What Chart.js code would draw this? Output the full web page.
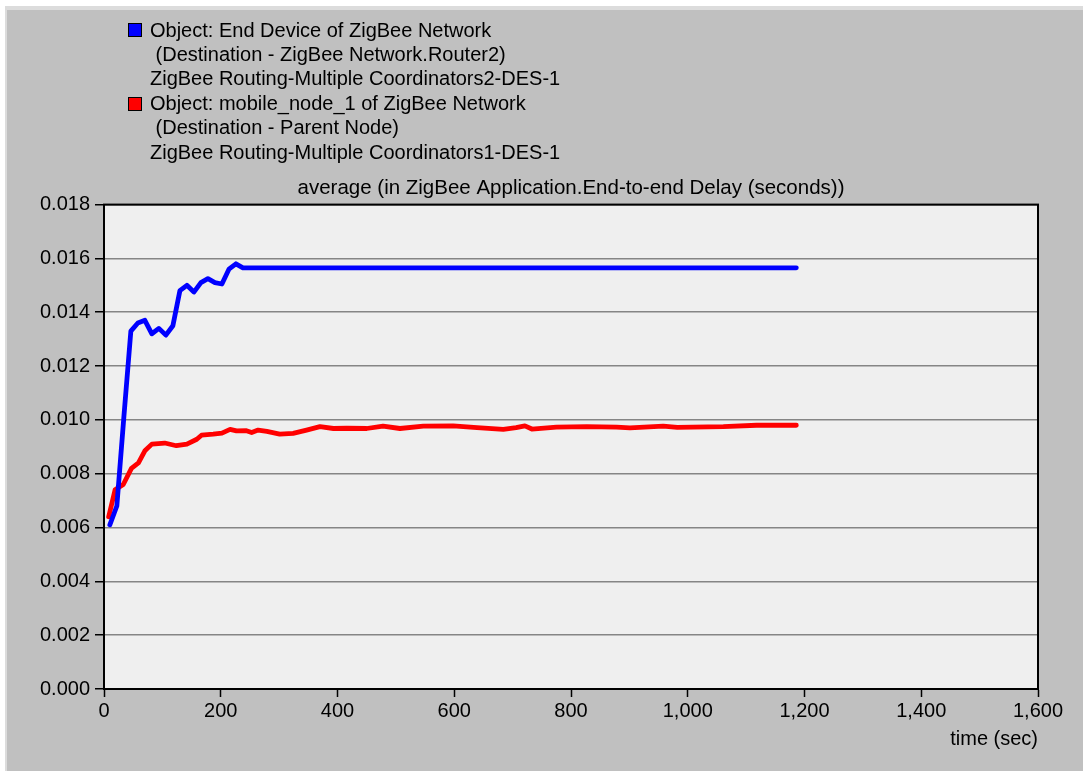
<!DOCTYPE html>
<html>
<head>
<meta charset="utf-8">
<script src="https://cdn.jsdelivr.net/npm/chart.js@4"></script>
<style>
  body { margin: 0; background: #fff; }
  #wrap { position: relative; width: 1083px; height: 771px; }
  #legend { position: absolute; left: 0; top: 0; font-family: "Liberation Sans", Arial, sans-serif; font-size: 20px; color: #000; }
  .line { position: absolute; left: 150px; white-space: pre; line-height: 24px; }
  .box { position: absolute; left: 128px; width: 12px; height: 12px; border: 1px solid #000; }
</style>
</head>
<body>
<div id="wrap">
  <canvas id="delayChart" width="1083" height="771"></canvas>
  <div id="legend">
    <div class="box" style="top:23px;background:#0000ff"></div>
    <div class="line" style="top:18px">Object: End Device of ZigBee Network</div>
    <div class="line" style="top:42px"> (Destination - ZigBee Network.Router2)</div>
    <div class="line" style="top:66px">ZigBee Routing-Multiple Coordinators2-DES-1</div>
    <div class="box" style="top:97px;background:#ff0000"></div>
    <div class="line" style="top:91px">Object: mobile_node_1 of ZigBee Network</div>
    <div class="line" style="top:115px"> (Destination - Parent Node)</div>
    <div class="line" style="top:140px">ZigBee Routing-Multiple Coordinators1-DES-1</div>
  </div>
</div>
<script>
// End Device -> Router2 (blue)
const blueTime = [10, 22, 34, 46, 58, 70, 82, 94, 106, 118, 130, 142, 154, 166, 178, 190, 202, 214, 226, 238, 1186];
const blueDelay = [0.0061, 0.0068, 0.0101, 0.0133, 0.0136, 0.0137, 0.0132, 0.0134, 0.01315, 0.0135, 0.0148, 0.0150, 0.01475,
  0.0151, 0.01525, 0.0151, 0.01505, 0.0156, 0.0158, 0.01565, 0.01565];

// mobile_node_1 -> Parent Node (red)
const redTime = [8, 19, 33, 47, 59, 70, 82, 104, 124, 142, 159, 167, 187, 202, 216, 227, 244, 253, 264, 279, 301, 324, 347,
  370, 393, 416, 450, 478, 507, 547, 598, 639, 684, 706, 721, 733, 775, 827, 878, 901, 958, 982, 1061, 1118, 1186];
const redDelay = [0.0064, 0.0074, 0.0076, 0.0082, 0.0084, 0.00885, 0.0091, 0.00914, 0.00904, 0.0091, 0.00928, 0.00943,
  0.00947, 0.00951, 0.00965, 0.00959, 0.0096, 0.00953, 0.00962, 0.00957, 0.00947, 0.0095, 0.00962, 0.00975, 0.00968,
  0.00969, 0.00968, 0.00977, 0.00968, 0.00977, 0.00978, 0.00971, 0.00965, 0.00971, 0.00978, 0.00966, 0.00973, 0.00975,
  0.00973, 0.0097, 0.00977, 0.00972, 0.00975, 0.0098, 0.0098];

const yMax = 0.018;
const xMax = 1600;

const toPoints = (xs, ys) => xs.map((x, i) => ({ x: x, y: ys[i] }));

const panelBackground = {
  id: "panelBackground",
  beforeDraw(chart) {
    const { ctx, width, height, chartArea } = chart;
    ctx.save();
    ctx.fillStyle = "#ffffff";
    ctx.fillRect(0, 0, width, height);
    ctx.fillStyle = "#dcdcdc";
    ctx.fillRect(5, 6, width, height);
    ctx.fillStyle = "#c0c0c0";
    ctx.fillRect(7, 10, width, height);
    ctx.fillStyle = "#efefef";
    ctx.fillRect(chartArea.left, chartArea.top, chartArea.right - chartArea.left, chartArea.bottom - chartArea.top);
    ctx.restore();
  },
  afterDraw(chart) {
    const { ctx, chartArea } = chart;
    ctx.save();
    ctx.strokeStyle = "#000";
    ctx.lineWidth = 2;
    ctx.strokeRect(chartArea.left, chartArea.top, chartArea.right - chartArea.left, chartArea.bottom - chartArea.top);
    ctx.restore();
  },
};

const font = { family: "'Liberation Sans', Arial, sans-serif", size: 20 };

new Chart(document.getElementById("delayChart").getContext("2d"), {
  type: "line",
  data: {
    datasets: [
      {
        label: "Object: End Device of ZigBee Network",
        data: toPoints(blueTime, blueDelay),
        borderColor: "#0000ff",
        borderWidth: 4.8,
        borderJoinStyle: "round",
        borderCapStyle: "round",
        pointRadius: 0,
        tension: 0,
      },
      {
        label: "Object: mobile_node_1 of ZigBee Network",
        data: toPoints(redTime, redDelay),
        borderColor: "#ff0000",
        borderWidth: 4.8,
        borderJoinStyle: "round",
        borderCapStyle: "round",
        pointRadius: 0,
        tension: 0,
      },
    ],
  },
  options: {
    responsive: false,
    animation: false,
    devicePixelRatio: 1,
    layout: { padding: { left: 0, right: 45, top: 0, bottom: 0 } },
    plugins: {
      legend: { display: false },
      tooltip: { enabled: false },
      title: {
        display: true,
        fullSize: false,
        text: "average (in ZigBee Application.End-to-end Delay (seconds))",
        color: "#000",
        font: { family: font.family, size: 20.5, weight: "normal" },
        padding: { top: 176, bottom: 4 },
      },
    },
    scales: {
      x: {
        type: "linear",
        min: 0,
        max: xMax,
        afterFit: (s) => { s.height = 82; },
        ticks: {
          stepSize: 200,
          color: "#000",
          font: font,
          padding: 2,
          maxRotation: 0,
          callback: (v) => v.toLocaleString("en-US"),
        },
        grid: { drawOnChartArea: false, tickLength: 8, tickColor: "#000", tickWidth: 1.5 },
        border: { color: "#000", width: 2 },
        title: { display: true, text: "time (sec)", align: "end", color: "#000", font: font, padding: { top: 0, bottom: 20 } },
      },
      y: {
        min: 0,
        max: yMax,
        afterFit: (s) => { s.width = 104; },
        ticks: {
          stepSize: 0.002,
          color: "#000",
          font: font,
          padding: 5,
          callback: (v) => v.toFixed(3),
        },
        grid: { color: "#858585", lineWidth: 1.5, tickLength: 9, tickColor: "#000", tickWidth: 1.5 },
        border: { color: "#000", width: 2 },
      },
    },
  },
  plugins: [panelBackground],
});
</script>
</body>
</html>
